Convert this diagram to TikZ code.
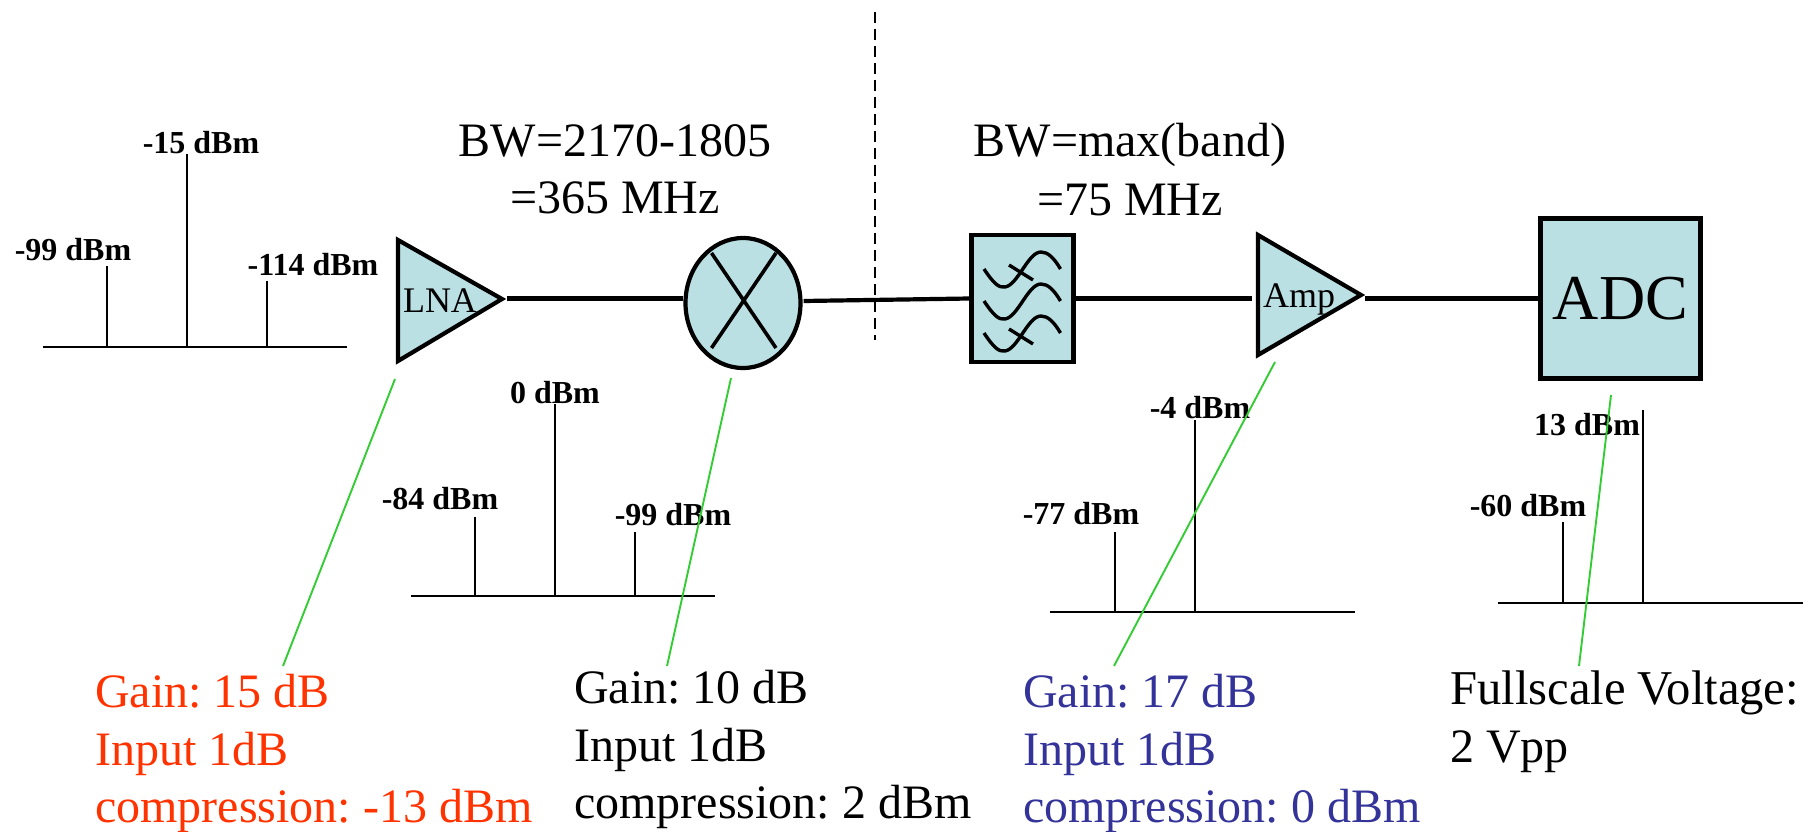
\documentclass[tikz,border=0pt]{standalone}
\usepackage{fontspec}
\setmainfont{Liberation Serif}
\usetikzlibrary{shapes.geometric}
\definecolor{teal}{HTML}{BBE0E3}
\definecolor{leader}{HTML}{33CC33}
\definecolor{redtxt}{HTML}{FF3300}
\definecolor{bluetxt}{HTML}{333399}
\tikzset{
  x=1pt,y=-1pt,
  block/.style={draw=black,fill=teal,line width=4.2pt,inner sep=0pt,line join=miter},
  wire/.style={line width=4.2pt},
  fine/.style={line width=2pt},
  leaderline/.style={leader,line width=1.9pt},
  lvl/.style={font=\fontsize{32}{36}\selectfont\bfseries,anchor=base,inner sep=0pt},
  bw/.style={font=\fontsize{48}{58}\selectfont,anchor=base,inner sep=0pt},
  info/.style={font=\fontsize{48}{58}\selectfont,anchor=base west,inner sep=0pt},
  blk/.style={inner sep=0pt,anchor=base},
}
\begin{document}
\frenchspacing
\begin{tikzpicture}
\useasboundingbox (0,0) rectangle (1816,832);
% dashed divider
\coordinate (dtop) at (875,12);
\coordinate (dbot) at (875,340);
\draw[fine,dash pattern=on 11pt off 6pt] (dtop) -- (dbot);
% LNA
\coordinate (lnaA) at (398,240);
\coordinate (lnaB) at (398,361);
\coordinate (lnaC) at (502,299);
\draw[block] (lnaA) -- (lnaC) -- (lnaB) -- cycle;
\node[blk,font=\fontsize{36}{40}\selectfont] (lnatxt) at (440,312) {LNA};
\coordinate (lnaout) at (507,298.5);
% Mixer
\node[block,ellipse,minimum width=115pt,minimum height=130pt] (mix) at (743,303) {};
\coordinate (mx1) at (711.5,253);
\coordinate (mx2) at (776,348);
\coordinate (mx3) at (776,253);
\coordinate (mx4) at (711.5,348);
\draw[line width=3.6pt] (mx1) -- (mx2) (mx3) -- (mx4);
\coordinate (mixin) at (683,298.5);
\draw[wire] (lnaout) -- (mixin);
% Filter
\node[block,minimum width=102pt,minimum height=127pt] (filt) at (1022.5,298.5) {};
\draw[wire] (mix.east) ++(1,-2) -- (filt.west);
\foreach \n/\d in {a/0,b/32,c/64}{
  \coordinate (w\n1) at (984,269+\d);
  \coordinate (w\n2) at (1060.5,269+\d);
  \draw[line width=3.4pt] (w\n1) .. controls (994,284+\d) and (999,288+\d) .. (1005,287+\d)
     .. controls (1018,285+\d) and (1028,252+\d) .. (1041,252+\d)
     .. controls (1048,252+\d) and (1054,258+\d) .. (w\n2);
}
\coordinate (ta1) at (1009,265);\coordinate (ta2) at (1033,280);
\coordinate (tc1) at (1009,329);\coordinate (tc2) at (1033,344);
\draw[line width=3.4pt] (ta1) -- (ta2) (tc1) -- (tc2);
% Amp
\coordinate (ampA) at (1258,235);
\coordinate (ampB) at (1258,355);
\coordinate (ampC) at (1361,295);
\draw[block] (ampA) -- (ampC) -- (ampB) -- cycle;
\node[blk,font=\fontsize{36}{40}\selectfont] (amptxt) at (1299,307) {Amp};
\coordinate (ampin) at (1252,298.5);
\coordinate (ampout) at (1365,298.5);
\draw[wire] (filt.east |- ampin) -- (ampin);
% ADC
\node[block,minimum width=160pt,minimum height=160pt,font=\fontsize{64}{70}\selectfont] (adc) at (1620.5,298.5) {ADC};
\draw[wire] (ampout) -- (adc.west);
% BW labels
\node[bw] (bwa1) at (615,157) {BW=2170-1805};
\node[bw] (bwa2) at (615,214) {=365 MHz};
\node[bw] (bwb1) at (1130,157) {BW=max(band)};
\node[bw] (bwb2) at (1130,215) {=75 MHz};
% Spectrum 1
\coordinate (s1l) at (43,347);\coordinate (s1r) at (347,347);
\coordinate (s1a) at (107,347);\coordinate (s1at) at (107,266);
\coordinate (s1b) at (187,347);\coordinate (s1bt) at (187,154);
\coordinate (s1c) at (267,347);\coordinate (s1ct) at (267,281);
\draw[fine] (s1l) -- (s1r) (s1a) -- (s1at) (s1b) -- (s1bt) (s1c) -- (s1ct);
\node[lvl] (l1a) at (73,260) {-99 dBm};
\node[lvl] (l1b) at (201,154) {-15 dBm};
\node[lvl] (l1c) at (313,275) {-114 dBm};
% Spectrum 2
\coordinate (s2l) at (411,596);\coordinate (s2r) at (715,596);
\coordinate (s2a) at (475,596);\coordinate (s2at) at (475,516.5);
\coordinate (s2b) at (555,596);\coordinate (s2bt) at (555,404);
\coordinate (s2c) at (635,596);\coordinate (s2ct) at (635,532);
\draw[fine] (s2l) -- (s2r) (s2a) -- (s2at) (s2b) -- (s2bt) (s2c) -- (s2ct);
\node[lvl] (l2a) at (440,509) {-84 dBm};
\node[lvl] (l2b) at (555,403) {0 dBm};
\node[lvl] (l2c) at (673,525) {-99 dBm};
% Spectrum 3
\coordinate (s3l) at (1050,612);\coordinate (s3r) at (1355,612);
\coordinate (s3a) at (1115,612);\coordinate (s3at) at (1115,531.5);
\coordinate (s3b) at (1195,612);\coordinate (s3bt) at (1195,420);
\draw[fine] (s3l) -- (s3r) (s3a) -- (s3at) (s3b) -- (s3bt);
\node[lvl] (l3a) at (1081,524) {-77 dBm};
\node[lvl] (l3b) at (1200,418) {-4 dBm};
% Spectrum 4
\coordinate (s4l) at (1498,603);\coordinate (s4r) at (1803,603);
\coordinate (s4a) at (1563,603);\coordinate (s4at) at (1563,522);
\coordinate (s4b) at (1643,603);\coordinate (s4bt) at (1643,410);
\draw[fine] (s4l) -- (s4r) (s4a) -- (s4at) (s4b) -- (s4bt);
\node[lvl] (l4a) at (1528,516) {-60 dBm};
\node[lvl] (l4b) at (1587,435) {13 dBm};
% Info text
\node[info,text=redtxt] (i1a) at (95,707) {Gain: 15 dB};
\node[info,text=redtxt] (i1b) at (95,765) {Input 1dB};
\node[info,text=redtxt] (i1c) at (95,822) {compression: -13 dBm};
\node[info] (i2a) at (574,703) {Gain: 10 dB};
\node[info] (i2b) at (574,761) {Input 1dB};
\node[info] (i2c) at (574,818) {compression: 2 dBm};
\node[info,text=bluetxt] (i3a) at (1023,707) {Gain: 17 dB};
\node[info,text=bluetxt] (i3b) at (1023,765) {Input 1dB};
\node[info,text=bluetxt] (i3c) at (1023,822) {compression: 0 dBm};
\node[info,font=\fontsize{48.6}{58}\selectfont] (i4a) at (1450,704) {Fullscale Voltage:};
\node[info] (i4b) at (1450,762) {2 Vpp};
% Leader lines
\coordinate (g1a) at (395,379);\coordinate (g1b) at (283,666);
\coordinate (g2a) at (731,378);\coordinate (g2b) at (667,666);
\coordinate (g3a) at (1275,362);\coordinate (g3b) at (1114,666);
\coordinate (g4a) at (1611,395);\coordinate (g4b) at (1579,666);
\draw[leaderline] (g1a) -- (g1b) (g2a) -- (g2b) (g3a) -- (g3b) (g4a) -- (g4b);
\end{tikzpicture}
\end{document}
